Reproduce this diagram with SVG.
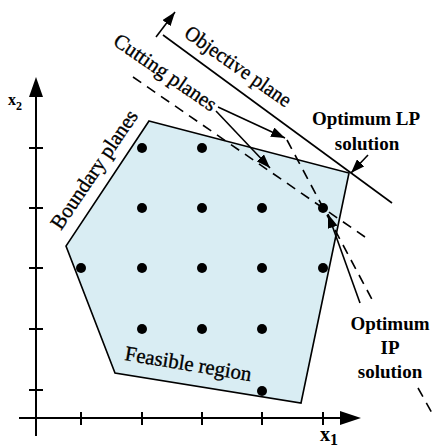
<svg xmlns="http://www.w3.org/2000/svg" width="434" height="447" viewBox="0 0 434 447">
<style>
.ln{stroke:#000;stroke-width:1.6;fill:none}
.dash{stroke:#000;stroke-width:1.6;fill:none;stroke-dasharray:10 7}
.ax{stroke:#000;stroke-width:2;fill:none}
.dot{fill:#000}
.lbl{font-family:"Liberation Serif","Times New Roman",serif;font-size:21px;fill:#000;stroke:#000;stroke-width:0.35}
.blbl{font-family:"Liberation Serif","Times New Roman",serif;font-size:19px;font-weight:bold;fill:#000;text-anchor:middle}
.axl{font-family:"Liberation Serif","Times New Roman",serif;font-weight:bold;fill:#000}
</style>
<defs>
<marker id="ah" markerUnits="userSpaceOnUse" markerWidth="14" markerHeight="10" refX="14" refY="5" orient="auto">
<path d="M0,0 L14,5 L0,10 z" fill="#000"/>
</marker>
</defs>
<g id="axes">
<line class="ax" x1="36" y1="436" x2="36" y2="95"/>
<polygon points="36,77 29,97 43,97" fill="#000"/>
<line class="ax" x1="19" y1="418" x2="342" y2="418"/>
<polygon points="361,418 340,411 340,425" fill="#000"/>
<path class="ax" d="M29,148H43M29,208H43M29,268H43M29,329H43M29,390H43"/>
<path class="ax" d="M81,412V425M142,412V425M202,412V425M262,412V425M323,412V425"/>
<text class="axl" x="8" y="105" font-size="16">x<tspan font-size="12" dy="5">2</tspan></text>
<text class="axl" x="320" y="441" font-size="20">x<tspan font-size="16" dy="4">1</tspan></text>
</g>
<g id="feasible-region">
<polygon points="149,121 349,173 301,403 115,373 66,246" fill="#d9edf3" stroke="#000" stroke-width="1.6"/>
</g>
<g id="lattice-points">
<circle class="dot" cx="142" cy="148" r="5"/>
<circle class="dot" cx="202" cy="148" r="5"/>
<circle class="dot" cx="142" cy="208" r="5"/>
<circle class="dot" cx="202" cy="208" r="5"/>
<circle class="dot" cx="262" cy="208" r="5"/>
<circle class="dot" cx="323" cy="208" r="5"/>
<circle class="dot" cx="81" cy="268" r="5"/>
<circle class="dot" cx="142" cy="268" r="5"/>
<circle class="dot" cx="202" cy="268" r="5"/>
<circle class="dot" cx="262" cy="268" r="5"/>
<circle class="dot" cx="323" cy="268" r="5"/>
<circle class="dot" cx="142" cy="329" r="5"/>
<circle class="dot" cx="202" cy="329" r="5"/>
<circle class="dot" cx="262" cy="329" r="5"/>
<circle class="dot" cx="262" cy="391" r="5"/>
</g>
<g id="connectors">
<line class="ln" x1="163" y1="35" x2="392" y2="203"/>
<line class="ln" x1="156" y1="37" x2="175" y2="12" marker-end="url(#ah)"/>
<line class="dash" x1="133" y1="77" x2="365" y2="237"/>
<path class="dash" d="M287,140 L375,305 M418,388 L432,413"/>
<line class="ln" x1="218" y1="107" x2="285" y2="138" marker-end="url(#ah)"/>
<line class="ln" x1="216" y1="111" x2="270" y2="168" marker-end="url(#ah)"/>
<line class="ln" x1="368" y1="155" x2="351" y2="173" marker-end="url(#ah)"/>
<line class="ln" x1="360" y1="303" x2="328" y2="214" marker-end="url(#ah)"/>
</g>
<g id="objective-plane-label">
<text class="lbl" transform="translate(183,36) rotate(35)" textLength="125" lengthAdjust="spacingAndGlyphs">Objective plane</text>
</g>
<g id="cutting-planes-label">
<text class="lbl" transform="translate(112,44) rotate(34.5)" textLength="120" lengthAdjust="spacingAndGlyphs">Cutting planes</text>
</g>
<g id="boundary-planes-label">
<text class="lbl" transform="translate(61,231) rotate(-56)" textLength="139" lengthAdjust="spacingAndGlyphs">Boundary planes</text>
</g>
<g id="feasible-region-label">
<text class="lbl" transform="translate(124,360) rotate(9.5)" textLength="128" lengthAdjust="spacingAndGlyphs">Feasible region</text>
</g>
<g id="lp-label">
<text class="blbl" x="366" y="125">Optimum LP</text>
<text class="blbl" x="367" y="150">solution</text>
</g>
<g id="ip-label">
<text class="blbl" x="390" y="330">Optimum</text>
<text class="blbl" x="390" y="354">IP</text>
<text class="blbl" x="390" y="378">solution</text>
</g>
</svg>
